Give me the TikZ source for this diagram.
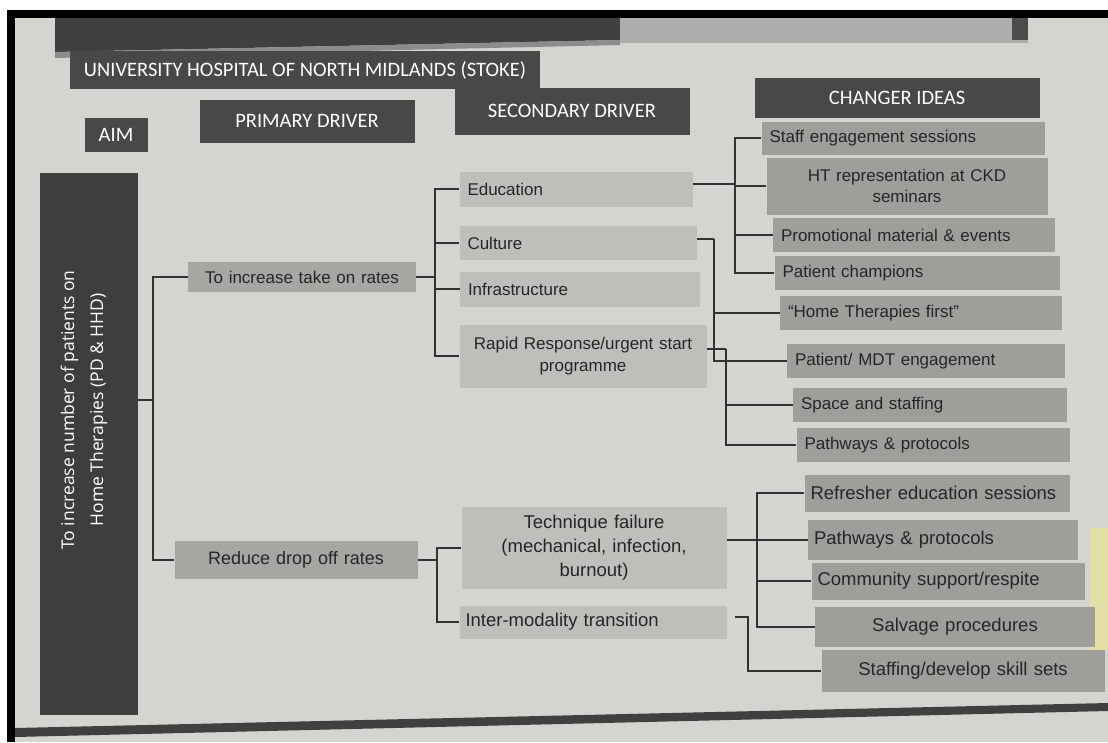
\documentclass[tikz,border=0pt]{standalone}
\usepackage{fontspec}
\setmainfont{Liberation Sans}
\newfontfamily\headfont{Carlito}
\newfontfamily\aimfont{Open Sans}
\definecolor{paper}{RGB}{214,212,208}
\definecolor{hddark}{RGB}{72,72,72}
\definecolor{aimdark}{RGB}{62,62,63}
\definecolor{prigrey}{RGB}{168,166,163}
\definecolor{secgrey}{RGB}{192,190,187}
\definecolor{chggrey}{RGB}{160,158,155}
\definecolor{wirecol}{RGB}{50,50,50}

\begin{document}
\begin{tikzpicture}[x=1pt, y=-1pt,
    font=\fontsize{17}{22}\selectfont,
    header/.style={fill=hddark, text=white, inner sep=0pt,
                   font=\headfont\fontsize{20.5}{23}\selectfont},
    box/.style={inner xsep=8pt, inner ysep=0pt, text=black!85},
    big/.style={inner xsep=6pt, font=\fontsize{18.5}{24}\selectfont},
    pri/.style={box, fill=prigrey, align=center},
    sec/.style={box, fill=secgrey, align=left},
    chg/.style={box, fill=chggrey, align=left, font=\fontsize{17}{21}\selectfont},
    wire/.style={draw=wirecol, line width=1.1pt}
  ]
  % paper and photo frame
  \fill[white] (0,0) rectangle (1108,742);
  \fill[black] (7,10) rectangle (1108,742);
  \fill[paper] (15,18) rectangle (1108,742);
  \fill[black!75] (55,18) -- (620,18) -- (620,40) -- (55,52) -- cycle;
  \fill[black!45] (55,52) -- (620,40) -- (620,45) -- (55,58) -- cycle;
  \fill[black!32] (620,18) rectangle (1028,43);
  \fill[black!70] (1012,18) rectangle (1028,40);
  \fill[black!75] (15,728) -- (1108,703) -- (1108,711) -- (15,737) -- cycle;
  \fill[yellow!25!paper] (1090,528) rectangle (1108,650);

  % headers
  \node[header, minimum width=470pt, minimum height=38pt] (title) at (305,70) {UNIVERSITY HOSPITAL OF NORTH MIDLANDS (STOKE)};
  \node[header, minimum width=63pt, minimum height=34pt] (aimhd) at (116,135) {AIM};
  \node[header, minimum width=215pt, minimum height=43pt] (prihd) at (307,121) {PRIMARY DRIVER};
  \node[header, minimum width=235pt, minimum height=47pt] (sechd) at (572,111) {SECONDARY DRIVER};
  \node[header, minimum width=285pt, minimum height=40pt] (chghd) at (897,98) {CHANGER IDEAS};

  % aim
  \node[fill=aimdark, minimum width=98pt, minimum height=542pt, inner sep=0pt] (aim) at (89,444) {};
  \node[rotate=90, text=white, align=center, font=\aimfont\fontsize{17.5}{29}\selectfont] (aimtxt) at (84,410)
    {To increase number of patients on\\Home Therapies (PD \& HHD)};

  % primary drivers
  \node[pri, text width=212pt, minimum height=30pt] (take) at (302,277) {To increase take on rates};
  \node[pri, big, font=\fontsize{18}{24}\selectfont, text width=231pt, minimum height=38pt] (drop) at (296,560) {Reduce drop off rates};

  % secondary drivers
  \node[sec, text width=217pt, minimum height=35pt] (edu) at (576,189) {Education};
  \node[sec, text width=221pt, minimum height=34pt] (cult) at (578,243) {Culture};
  \node[sec, text width=224pt, minimum height=35pt] (infra) at (580,289) {Infrastructure};
  \node[sec, align=center, text width=231pt, minimum height=63pt] (rapid) at (583,356) {Rapid Response/urgent start\\programme};
  \node[sec, big, align=center, text width=253pt, minimum height=82pt] (tech) at (594,548) {Technique failure\\(mechanical, infection,\\burnout)};
  \node[sec, big, text width=255pt, minimum height=33pt] (inter) at (593,622) {Inter-modality transition};

  % change ideas
  \node[chg, text width=267pt, minimum height=33pt] (staff) at (903,138) {Staff engagement sessions};
  \node[chg, align=center, text width=265pt, minimum height=57pt] (ht) at (907,186) {HT representation at CKD\\seminars};
  \node[chg, text width=266pt, minimum height=34pt] (promo) at (914,235) {Promotional material \& events};
  \node[chg, text width=269pt, minimum height=34pt] (champ) at (917,273) {Patient champions};
  \node[chg, text width=266pt, minimum height=34pt] (home) at (921,313) {``Home Therapies first''};
  \node[chg, text width=262pt, minimum height=34pt] (mdt) at (926,361) {Patient/ MDT engagement};
  \node[chg, text width=258pt, minimum height=34pt] (space) at (930,405) {Space and staffing};
  \node[chg, text width=257pt, minimum height=34pt] (pathA) at (933,445) {Pathways \& protocols};
  \node[chg, big, text width=253pt, minimum height=37pt] (refr) at (937,493) {Refresher education sessions};
  \node[chg, big, text width=258pt, minimum height=40pt] (pathB) at (943,540) {Pathways \& protocols};
  \node[chg, big, text width=261pt, minimum height=37pt] (comm) at (948,581) {Community support/respite};
  \node[chg, big, align=center, text width=268pt, minimum height=40pt] (salv) at (955,627) {Salvage procedures};
  \node[chg, big, align=center, text width=271pt, minimum height=42pt] (skill) at (963,671) {Staffing/develop skill sets};

  % connectors
  \coordinate (aimBus) at (153,400);
  \draw[wire] (aim.east |- aimBus) -- (aimBus);
  \foreach \n in {take,drop} \draw[wire] (aimBus) |- (\n.west);

  \coordinate (takeBus) at (435,277);
  \draw[wire] (take.east) -- (takeBus);
  \foreach \n in {edu,cult,infra,rapid} \draw[wire] (takeBus) |- (\n.west);

  \coordinate (dropBus) at (437,560);
  \draw[wire] (drop.east) -- (dropBus);
  \foreach \n in {tech,inter} \draw[wire] (dropBus) |- (\n.west);

  \coordinate (eduBus) at (735,184);
  \draw[wire] (edu.east |- eduBus) -- (eduBus);
  \foreach \n in {staff,ht,promo,champ} \draw[wire] (eduBus) |- (\n.west);

  \coordinate (cultBus) at (714,239);
  \draw[wire] (cult.east |- cultBus) -- (cultBus);
  \foreach \n in {home,mdt} \draw[wire] (cultBus) |- (\n.west);

  \coordinate (rapidBus) at (726,349);
  \draw[wire] (rapid.east |- rapidBus) -- (rapidBus);
  \foreach \n in {space,pathA} \draw[wire] (rapidBus) |- (\n.west);

  \coordinate (techBus) at (757,540);
  \draw[wire] (tech.east |- techBus) -- (techBus);
  \foreach \n in {refr,pathB,comm,salv} \draw[wire] (techBus) |- (\n.west);

  \coordinate (interBus) at (748,617);
  \draw[wire] ([xshift=8pt]inter.east |- interBus) -- (interBus) |- (skill.west);
\end{tikzpicture}
\end{document}
